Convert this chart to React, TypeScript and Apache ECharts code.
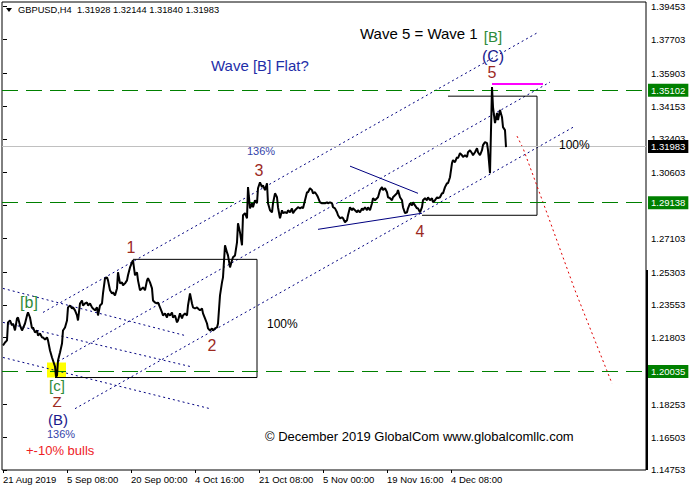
import React, { useEffect, useRef } from "react";
import * as echarts from "echarts";

const FONT = "'Liberation Sans', Arial, sans-serif";

// ---- axes ----
const timeTickIndex = [0, 64, 128, 192, 256, 320, 384, 448];
const timeTickLabels = [
  "21 Aug 2019",
  "5 Sep 08:00",
  "20 Sep 00:00",
  "4 Oct 16:00",
  "21 Oct 08:00",
  "5 Nov 00:00",
  "19 Nov 16:00",
  "4 Dec 08:00",
];
const priceTicks = [
  1.14753, 1.16503, 1.18253, 1.21803, 1.23553, 1.25303, 1.27103, 1.28853,
  1.30603, 1.32403, 1.34153, 1.35903, 1.37703, 1.39453,
];

// ---- header quote ----
const quoteSymbol = "GBPUSD,H4";
const quoteOHLC = [1.31928, 1.32144, 1.3184, 1.31983];

// ---- GBPUSD H4 price path [bar index, price] ----
const pricePath = [
  [0, 1.2139], [2, 1.2155], [4, 1.2166], [5, 1.2262], [7, 1.2272], [9, 1.2246], [10, 1.2256],
  [12, 1.2219], [14, 1.2283], [15, 1.2288], [17, 1.2246], [19, 1.2219], [20, 1.223], [22, 1.2256],
  [24, 1.2299], [25, 1.2315], [27, 1.2288], [29, 1.223], [30, 1.2235], [32, 1.2208], [34, 1.2219],
  [35, 1.2192], [37, 1.2203], [39, 1.2182], [40, 1.2182], [42, 1.2171], [44, 1.2182], [45, 1.2166],
  [47, 1.2112], [49, 1.2075], [50, 1.2059], [52, 1.2027], [53, 1.1973], [54, 1.1979], [55, 1.2059],
  [57, 1.2101], [59, 1.2149], [60, 1.2219], [62, 1.2235], [64, 1.2272], [65, 1.2342], [67, 1.2352],
  [69, 1.2336], [70, 1.2342], [72, 1.2326], [74, 1.2299], [75, 1.2272], [77, 1.2363], [79, 1.2379],
  [80, 1.2352], [82, 1.2363], [84, 1.2368], [85, 1.2352], [87, 1.2363], [89, 1.2342], [90, 1.2336],
  [92, 1.2326], [94, 1.2342], [95, 1.2299], [97, 1.2352], [99, 1.2363], [100, 1.2416], [102, 1.2497],
  [104, 1.2502], [105, 1.2486], [107, 1.2433], [109, 1.2416], [110, 1.2422], [112, 1.2406], [114, 1.2443],
  [115, 1.2529], [117, 1.247], [119, 1.2475], [120, 1.2459], [122, 1.247], [124, 1.2486], [125, 1.2513],
  [127, 1.2555], [129, 1.2582], [130, 1.2593], [132, 1.2513], [134, 1.2529], [135, 1.2486], [137, 1.2433],
  [139, 1.2443], [140, 1.2449], [142, 1.2433], [144, 1.2486], [145, 1.2497], [147, 1.2475], [149, 1.2443],
  [150, 1.2379], [152, 1.2368], [154, 1.2363], [155, 1.2368], [157, 1.2342], [159, 1.2315], [160, 1.2299],
  [162, 1.231], [164, 1.2288], [165, 1.231], [167, 1.2299], [169, 1.2315], [170, 1.2288], [172, 1.2299],
  [174, 1.2262], [175, 1.2272], [177, 1.231], [179, 1.2283], [180, 1.2299], [182, 1.231], [184, 1.2299],
  [185, 1.2352], [187, 1.2416], [189, 1.2363], [190, 1.2342], [192, 1.2336], [194, 1.2342], [195, 1.2336],
  [197, 1.2326], [199, 1.2336], [200, 1.231], [202, 1.2283], [204, 1.2256], [205, 1.223], [207, 1.2219],
  [209, 1.223], [210, 1.2219], [212, 1.223], [214, 1.2235], [215, 1.2256], [217, 1.2406], [219, 1.2475],
  [220, 1.2502], [222, 1.2673], [224, 1.2635], [225, 1.2619], [227, 1.2555], [229, 1.2593], [230, 1.2609],
  [232, 1.2619], [234, 1.2689], [235, 1.279], [237, 1.2742], [239, 1.2673], [240, 1.2833], [242, 1.2844],
  [244, 1.2817], [245, 1.2983], [247, 1.287], [249, 1.2897], [250, 1.2876], [252, 1.2913], [254, 1.2897],
  [255, 1.2977], [257, 1.3009], [259, 1.2983], [260, 1.2993], [262, 1.2967], [264, 1.3004], [265, 1.2897],
  [267, 1.286], [269, 1.2849], [270, 1.2897], [272, 1.295], [274, 1.2929], [275, 1.2876], [277, 1.2817],
  [279, 1.286], [280, 1.2844], [282, 1.2849], [284, 1.2844], [285, 1.286], [287, 1.2849], [289, 1.287],
  [290, 1.2844], [292, 1.286], [294, 1.287], [295, 1.2876], [297, 1.287], [299, 1.2876], [300, 1.287],
  [302, 1.2913], [304, 1.2956], [305, 1.2956], [307, 1.2977], [309, 1.2967], [310, 1.295], [312, 1.2956],
  [314, 1.294], [315, 1.2929], [317, 1.2902], [319, 1.2897], [320, 1.2897], [322, 1.2897], [324, 1.2902],
  [325, 1.2897], [327, 1.2902], [329, 1.2897], [330, 1.2876], [332, 1.287], [334, 1.2849], [335, 1.2833],
  [337, 1.2817], [339, 1.2822], [340, 1.2817], [342, 1.2796], [344, 1.2806], [345, 1.2833], [347, 1.2876],
  [349, 1.286], [350, 1.287], [352, 1.286], [354, 1.2849], [355, 1.286], [357, 1.2849], [359, 1.287],
  [360, 1.286], [362, 1.2876], [364, 1.286], [365, 1.2876], [367, 1.286], [369, 1.2897], [370, 1.2924],
  [372, 1.2913], [374, 1.2924], [375, 1.2929], [377, 1.2967], [379, 1.2983], [380, 1.2967], [382, 1.2977],
  [384, 1.2956], [385, 1.2929], [387, 1.2924], [389, 1.2913], [390, 1.2929], [392, 1.294], [394, 1.295],
  [395, 1.2967], [397, 1.2929], [399, 1.2913], [400, 1.2876], [402, 1.2844], [404, 1.2849], [405, 1.287],
  [407, 1.2897], [409, 1.2886], [410, 1.2902], [412, 1.2886], [414, 1.287], [415, 1.287], [417, 1.2849],
  [419, 1.2876], [420, 1.2913], [422, 1.2924], [424, 1.2913], [425, 1.2929], [427, 1.2913], [429, 1.2924],
  [430, 1.2902], [432, 1.2913], [434, 1.2929], [435, 1.2924], [437, 1.2929], [439, 1.295], [440, 1.295],
  [442, 1.2983], [444, 1.3004], [445, 1.3004], [447, 1.3036], [449, 1.3111], [450, 1.3127], [452, 1.3116],
  [454, 1.3143], [455, 1.3137], [457, 1.3164], [459, 1.3153], [460, 1.3143], [462, 1.3153], [464, 1.3143],
  [465, 1.3169], [467, 1.318], [469, 1.3164], [470, 1.3153], [472, 1.3169], [474, 1.3191], [475, 1.3169],
  [477, 1.3153], [479, 1.318], [480, 1.3207], [482, 1.3223], [484, 1.3217], [485, 1.318], [487, 1.3057],
  [489, 1.3517], [490, 1.341], [492, 1.3324], [494, 1.3378], [495, 1.334], [497, 1.3394], [499, 1.3356],
  [500, 1.3303], [502, 1.3287], [503, 1.3196],
];

// ---- horizontal levels ----
const greenLevels = [1.35102, 1.29138, 1.20035];
const lastPrice = 1.31983;

// ---- drawn objects [bar index, price] ----
const channelTop = [[40, 1.2315], [534, 1.3805]];
const channelMid = [[55, 1.2053], [547, 1.3543]];
const channelLow = [[72, 1.1802], [572, 1.3308]];
const fanLine1 = [[0, 1.2443], [182, 1.2192]];
const fanLine2 = [[0, 1.2262], [187, 1.2027]];
const fanLine3 = [[0, 1.2075], [207, 1.1802]];
const triangleUpper = [[347, 1.3095], [415, 1.295]];
const triangleLower = [[315, 1.2758], [419, 1.2844]];
const wave1Box = [[52, 1.1968], [254, 1.1968], [254, 1.2598], [130, 1.2598]];
const wave5Box = [[419, 1.2833], [534, 1.2833], [534, 1.3468], [445, 1.3468]];
const wave5Cap = [[489, 1.3533], [540, 1.3533]];
const projection = [[514, 1.3255], [520, 1.3191], [530, 1.3047], [544, 1.2844], [572, 1.2433], [609, 1.1936]];
const lowMarker = [[44, 1.2048], [63, 1.1968]];

const RED = "#9c2a1f";
const GREEN = "#2e8b3a";
const NAVY = "#1a1a8c";
const BLUE = "#1e2ea8";
const BLUE2 = "#3344aa";

function seg(data: number[][], lineStyle: any, z = 3) {
  return {
    type: "line",
    data,
    symbol: "none",
    showSymbol: false,
    silent: true,
    clip: false,
    lineStyle,
    z,
  };
}

function txt(text: string, x: number, y: number, fill: string, size: number, align = "center") {
  return {
    type: "text",
    x,
    y,
    silent: true,
    z: 20,
    style: {
      text,
      fill,
      fontSize: size,
      fontFamily: FONT,
      align,
      textAlign: align,
      verticalAlign: "middle",
      textVerticalAlign: "middle",
    },
  };
}

function levelItem(v: number, lineColor: string, lineType: any, boxColor: string) {
  return {
    yAxis: v,
    lineStyle: { color: lineColor, type: lineType, width: 1 },
    label: {
      show: true,
      position: "end",
      formatter: v.toFixed(5),
      backgroundColor: boxColor,
      color: "#fff",
      fontFamily: FONT,
      fontSize: 9.5,
      padding: [2, 3, 1, 3],
      distance: 2,
    },
  };
}

export default function App() {
  const ref = useRef<HTMLDivElement>(null);

  useEffect(() => {
    if (!ref.current) return;
    const chart = echarts.init(ref.current, null, { renderer: "svg" });
    const dotted = { color: "#000080", width: 1, type: [2, 3] };

    const option: any = {
      animation: false,
      backgroundColor: "#fff",
      grid: {
        left: 2,
        right: 46,
        top: 2,
        bottom: 22,
        show: true,
        borderColor: "#000",
        borderWidth: 1,
        backgroundColor: "#fff",
        containLabel: false,
        outerBoundsMode: "none",
      },
      xAxis: {
        type: "value",
        min: -1,
        max: 643,
        axisLine: { show: false },
        splitLine: { show: false },
        axisTick: { show: true, customValues: timeTickIndex, length: 3, lineStyle: { color: "#000" } },
        axisLabel: {
          customValues: timeTickIndex,
          formatter: (v: number) => {
            const k = timeTickIndex.indexOf(Math.round(v));
            return k >= 0 ? timeTickLabels[k] : "";
          },
          align: "left",
          margin: 4,
          fontFamily: FONT,
          fontSize: 9.5,
          color: "#000",
        },
      },
      yAxis: {
        type: "value",
        position: "right",
        min: 1.1475,
        max: 1.397,
        scale: true,
        axisLine: { show: false },
        splitLine: { show: false },
        axisTick: { show: true, customValues: priceTicks, length: 4, lineStyle: { color: "#000" } },
        axisLabel: {
          customValues: priceTicks,
          formatter: (v: number) => v.toFixed(5),
          margin: 5,
          fontFamily: FONT,
          fontSize: 9.5,
          color: "#000",
        },
      },
      series: [
        {
          type: "line",
          data: [],
          silent: true,
          z: 1,
          markArea: {
            silent: true,
            itemStyle: { color: "#ffff00", opacity: 1 },
            data: [[{ coord: lowMarker[0] }, { coord: lowMarker[1] }]],
          },
        },
        {
          type: "line",
          data: [],
          silent: true,
          z: 2,
          markLine: {
            silent: true,
            symbol: ["none", "none"],
            animation: false,
            data: [
              ...greenLevels.map((v) => levelItem(v, "#008000", [16, 8], "#008000")),
              levelItem(lastPrice, "#c0c0c0", "solid", "#000"),
            ],
          },
        },
        seg(channelTop, dotted),
        seg(channelMid, dotted),
        seg(channelLow, dotted),
        seg(fanLine1, dotted),
        seg(fanLine2, dotted),
        seg(fanLine3, dotted),
        seg(triangleUpper, { color: "#000080", width: 1, type: "solid" }),
        seg(triangleLower, { color: "#000080", width: 1, type: "solid" }),
        seg(wave1Box, { color: "#000", width: 1, type: "solid" }),
        seg(wave5Box, { color: "#000", width: 1, type: "solid" }),
        seg(wave5Cap, { color: "#ff00ff", width: 2, type: "solid" }),
        seg(projection, { color: "#e00000", width: 1, type: [2, 3] }),
        {
          type: "line",
          data: pricePath,
          symbol: "none",
          showSymbol: false,
          silent: true,
          lineStyle: { color: "#000", width: 2 },
          z: 6,
        },
      ],
      graphic: [
        { type: "rect", shape: { x: 646, y: 270, width: 2, height: 200 }, style: { fill: "#000" }, silent: true, z: 20 },
        { type: "polygon", shape: { points: [[6, 8], [12, 8], [9, 12]] }, style: { fill: "#000" }, silent: true, z: 20 },
        txt(`${quoteSymbol}  ${quoteOHLC.map((v) => v.toFixed(5)).join(" ")}`, 18, 10, "#000", 9.3, "left"),
        txt("Wave 5 = Wave 1", 360, 33, "#000", 15, "left"),
        txt("[B]", 493, 36, GREEN, 15),
        txt("(C)", 493, 56, NAVY, 16),
        txt("5", 492, 72, RED, 16),
        txt("Wave [B] Flat?", 211, 65, BLUE, 15, "left"),
        txt("136%", 261, 151, BLUE2, 11),
        txt("3", 259, 170, RED, 16),
        txt("1", 131, 247, RED, 16),
        txt("2", 212, 345, RED, 16),
        txt("4", 420, 231, RED, 16),
        txt("100%", 559, 145, "#000", 12, "left"),
        txt("100%", 267, 324, "#000", 12, "left"),
        txt("[b]", 29, 302, GREEN, 16),
        txt("[c]", 57, 385, GREEN, 15),
        txt("Z", 57, 401, RED, 15),
        txt("(B)", 58, 419, NAVY, 15),
        txt("136%", 61, 434, BLUE2, 11),
        txt("+-10% bulls", 26, 450, "#ee1c25", 13, "left"),
        txt("\u00a9 December 2019 GlobalCom www.globalcomllc.com", 265, 436, "#000", 13, "left"),
      ],
    };

    chart.setOption(option);
    return () => chart.dispose();
  }, []);

  return (
    <div
      ref={ref}
      style={{ position: "absolute", left: 0, top: 0, width: 692, height: 492, background: "#fff" }}
    />
  );
}
